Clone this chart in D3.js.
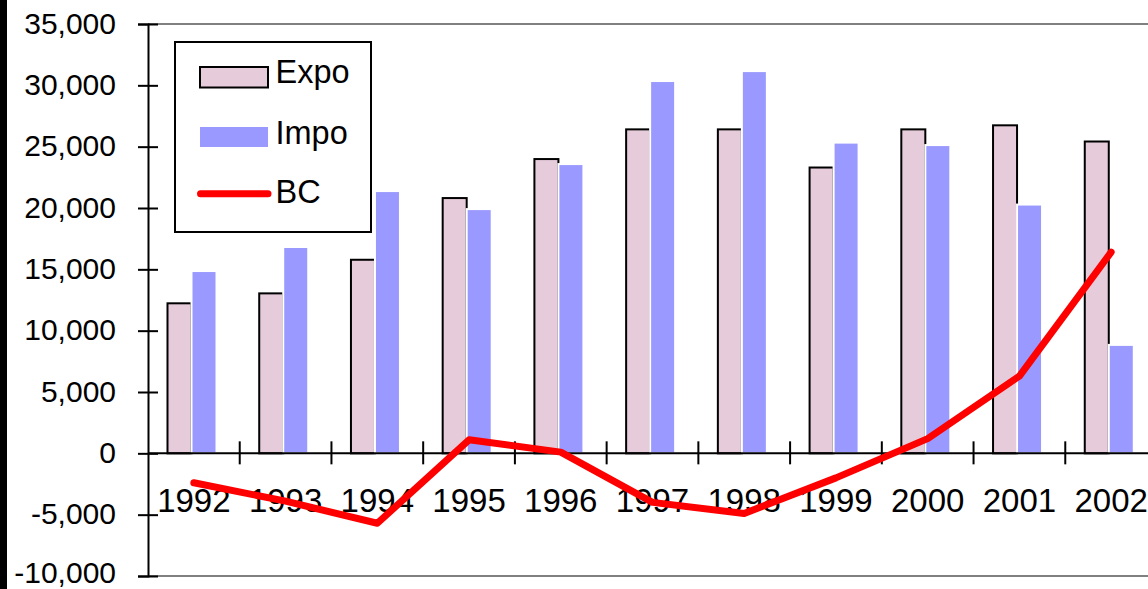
<!DOCTYPE html>
<html>
<head>
<meta charset="utf-8">
<script src="https://cdn.jsdelivr.net/npm/d3@7/dist/d3.min.js"></script>
<style>
  html, body { margin: 0; padding: 0; background: #fff; }
  svg { display: block; }
  text { font-family: "Liberation Sans", Arial, sans-serif; fill: #000; }
</style>
</head>
<body>
<svg id="chart" width="1148" height="589"></svg>
<script>
const years = ["1992","1993","1994","1995","1996","1997","1998","1999","2000","2001","2002"];
const expo  = [12230, 13040, 15780, 20810, 23990, 26410, 26410, 23300, 26410, 26740, 25420];
const impo  = [14860, 16820, 21380, 19910, 23580, 30350, 31160, 25330, 25130, 20280, 8840];
const bc    = [-2400, -3900, -5700, 1100, 100, -4000, -4900, -2000, 1200, 6300, 16400];
const yTicks = [-10000, -5000, 0, 5000, 10000, 15000, 20000, 25000, 30000, 35000];
const seriesNames = ["Expo", "Impo", "BC"];

const svg = d3.select("#chart");
const W = 1148, H = 589;

const y = d3.scaleLinear().domain([-10000, 35000]).range([576, 24]);
const x0 = d3.scaleBand().domain(years).range([148, 1157]).padding(0);
const step = x0.step();
const x1 = d3.scaleBand().domain(["Expo", "Impo"]).range([19.5 / 91.73 * step, 69.5 / 91.73 * step]).padding(0);
const bw = x1.bandwidth();

// left black strip
svg.append("rect").attr("x", 0).attr("y", 0).attr("width", 7).attr("height", H).attr("fill", "#000");

// plot border lines (top / bottom gray)
svg.append("line").attr("x1", 148).attr("x2", W).attr("y1", y(35000)).attr("y2", y(35000))
  .attr("stroke", "#808080").attr("stroke-width", 2);
svg.append("line").attr("x1", 148).attr("x2", W).attr("y1", y(-10000)).attr("y2", y(-10000))
  .attr("stroke", "#808080").attr("stroke-width", 2);

// bars
const groups = svg.append("g").selectAll("g").data(years).join("g")
  .attr("transform", d => `translate(${x0(d)},0)`);

groups.append("rect")
  .attr("x", x1("Expo"))
  .attr("y", (d, i) => y(expo[i]))
  .attr("width", bw - 1)
  .attr("height", (d, i) => y(0) - y(expo[i]))
  .attr("fill", "#e6ccda")
  .attr("stroke", "#000")
  .attr("stroke-width", 2);

groups.append("rect")
  .attr("x", x1("Impo") - 1)
  .attr("y", (d, i) => y(impo[i]))
  .attr("width", bw)
  .attr("height", (d, i) => y(0) - y(impo[i]))
  .attr("fill", "#9999ff")
  .attr("stroke", "#fff")
  .attr("stroke-width", 2);

// y axis
const fmt = d3.format(",");
const yAxis = d3.axisLeft(y).tickValues(yTicks)
  .tickFormat(d => fmt(d).replace("\u2212", "-"))
  .tickSize(10).tickPadding(22);
const ya = svg.append("g").attr("transform", "translate(148,0)").call(yAxis);
ya.select(".domain").attr("stroke", "#000").attr("stroke-width", 2);
ya.selectAll(".tick line").attr("stroke", "#000").attr("stroke-width", 2);
ya.selectAll(".tick").append("line").attr("x1", 0).attr("x2", 10).attr("stroke", "#000").attr("stroke-width", 2);
ya.selectAll(".tick text")
  .attr("font-family", "'Liberation Sans', Arial, sans-serif")
  .attr("font-size", 30).attr("fill", "#000")
  .attr("dy", "0.3em")
  .attr("y", d => d === -10000 ? -3 : 0);

// x (category) axis at zero
const xa = svg.append("g");
xa.append("line").attr("x1", 148).attr("x2", W).attr("y1", y(0)).attr("y2", y(0))
  .attr("stroke", "#000").attr("stroke-width", 2);
const bounds = years.map(d => x0(d)).concat([x0(years[years.length - 1]) + step]).slice(1);
xa.selectAll("line.b").data(bounds).join("line").attr("class", "b")
  .attr("x1", d => d).attr("x2", d => d)
  .attr("y1", y(0) - 12).attr("y2", y(0) + 11)
  .attr("stroke", "#000").attr("stroke-width", 2);
xa.selectAll("text").data(years).join("text")
  .attr("x", d => x0(d) + step / 2)
  .attr("y", 512)
  .attr("text-anchor", "middle")
  .attr("font-size", 33)
  .text(d => d);

// BC line
const line = d3.line().x((d, i) => x0(years[i]) + step / 2).y(d => y(d));
svg.append("path").datum(bc).attr("d", line)
  .attr("fill", "none").attr("stroke", "#ff0000").attr("stroke-width", 7)
  .attr("stroke-linecap", "round").attr("stroke-linejoin", "round");

// legend
const lg = svg.append("g");
lg.append("rect").attr("x", 175).attr("y", 42).attr("width", 196).attr("height", 190)
  .attr("fill", "#fff").attr("stroke", "#000").attr("stroke-width", 2);
lg.append("rect").attr("x", 200).attr("y", 67).attr("width", 68).attr("height", 20.5)
  .attr("fill", "#e6ccda").attr("stroke", "#000").attr("stroke-width", 2);
lg.append("rect").attr("x", 200).attr("y", 127).attr("width", 68).attr("height", 20)
  .attr("fill", "#9999ff");
lg.append("line").attr("x1", 200.5).attr("x2", 268).attr("y1", 193.7).attr("y2", 193.7)
  .attr("stroke", "#ff0000").attr("stroke-width", 7).attr("stroke-linecap", "round");
const lgY = [83.3, 144.3, 203.3];
lg.selectAll("text.l").data(seriesNames).join("text").attr("class", "l")
  .attr("x", 275.5).attr("y", (d, i) => lgY[i])
  .attr("font-size", 32.5)
  .text(d => d);
</script>
</body>
</html>
